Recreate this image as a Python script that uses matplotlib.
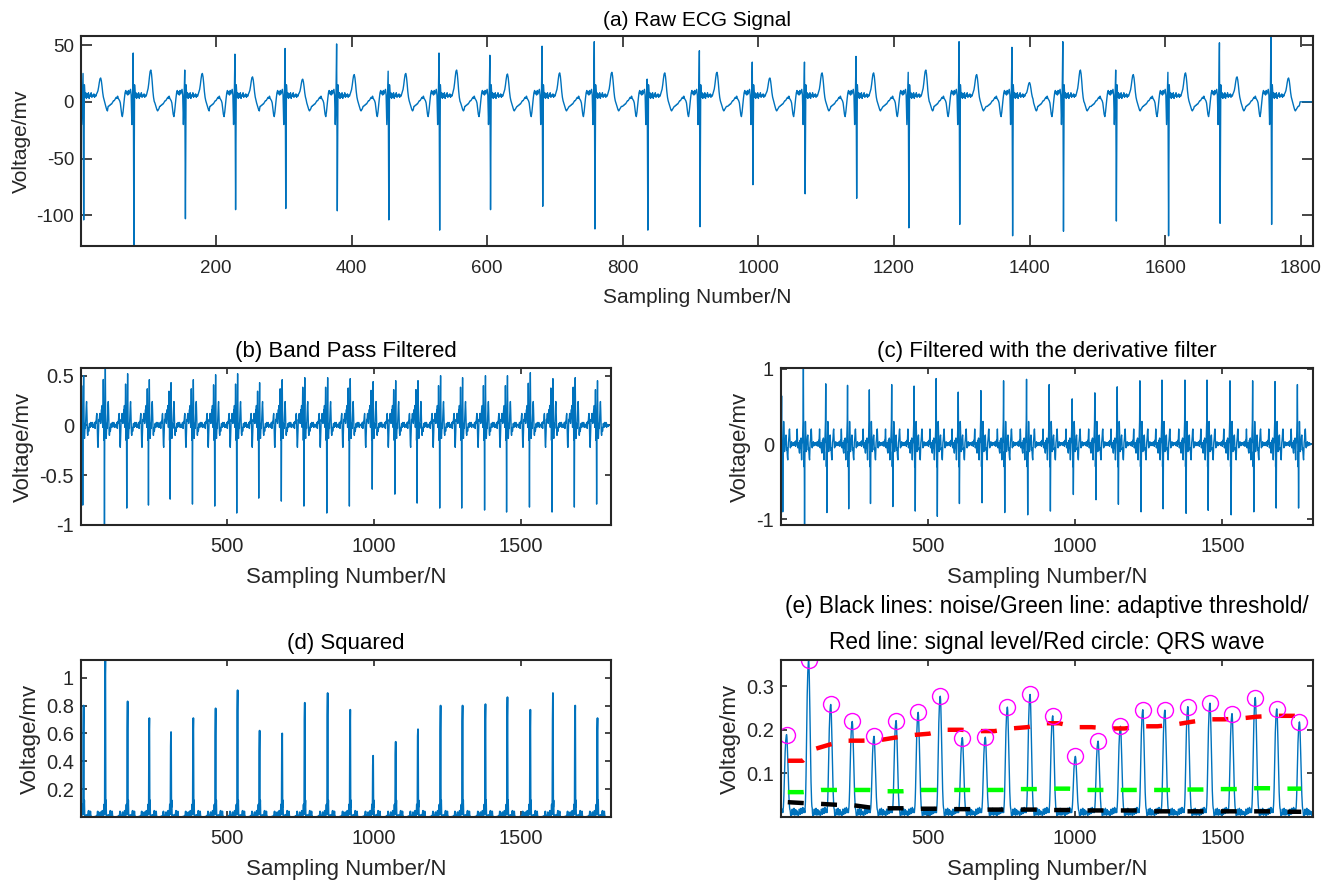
import numpy as np
import matplotlib
matplotlib.use("Agg")
import matplotlib.pyplot as plt

plt.rcParams['font.family'] = ['Liberation Sans', 'DejaVu Sans']
plt.rcParams['axes.unicode_minus'] = False
plt.rcParams['lines.scale_dashes'] = False

BLUE = '#0072BD'
DARK = '#262626'

# ---------------- data ----------------
N_RAW = 1818
N_FILT = 1808

# (a) raw ECG: sample index of the deep S spike of each beat, and its R / S / T values
beat_pos = [5, 79, 155, 229, 303, 379, 455, 530, 605, 682, 759, 837, 914, 992,
            1069, 1145, 1222, 1297, 1375, 1450, 1528, 1605, 1681, 1757]
raw_R = [25, 43, 28, 42, 47, 51, 27, 43, 41, 49, 53, 20, 45, 35, 35, 40, 26,
         53, 48, 53, 28, 26, 52, 58]
raw_S = [-104, -127, -103, -95, -94, -96, -104, -113, -95, -92, -112, -113,
         -110, -73, -81, -85, -111, -108, -118, -114, -105, -118, -107, -108]
raw_T = [21, 28, 25, 22, 20, 24, 25, 28, 24.5, 25.5, 26, 25.5, 26, 21, 25.5,
         25.5, 28, 24, 17, 28, 24, 25.5, 22, 21]
# one raw beat, samples -38 .. +41 around the S spike (R at -1, S at 0)
raw_beat = [-4, -4, -3, -3, -2, -2, -1, 0, 1, 1, 2, 3, 4, 3, 5, 3, 2, 1, -1, -6,
            -11, -13, -9, -3, 3, 8, 10, 7, 9, 6, 10, 7, 9, 11, 6, -20, 2, 0,
            0, 15, 4, 8, 3, 7, 4, 8, 3, 6, 5, 8, 4, 6, 5, 7, 4, 6, 5, 7, 9, 11,
            15, 20, 24, 25, 22, 16, 9, 4, 1, -1, -3, -5, -7, -8, -7, -6, -5, -4,
            -4, -3]

# (b) band pass filtered: negative spike and following positive peak per beat
bp_delay = 2
bp_neg = [-0.8, -1.0, -0.83, -0.8, -0.74, -0.79, -0.81, -0.88, -0.73, -0.76,
          -0.81, -0.88, -0.81, -0.64, -0.69, -0.78, -0.83, -0.83, -0.85, -0.87,
          -0.82, -0.87, -0.82, -0.79]
bp_pos = [0.5, 0.577, 0.52, 0.46, 0.43, 0.46, 0.51, 0.52, 0.43, 0.46, 0.48,
          0.48, 0.47, 0.44, 0.45, 0.45, 0.5, 0.48, 0.5, 0.5, 0.53, 0.47, 0.48,
          0.45]
bp_beat = [0.0, 0.01, -0.02, 0.01, 0.03, 0.0, -0.03, 0.02, 0.04, 0.02, 0.06,
           0.1, 0.12, 0.05, -0.08, -0.2, -0.22, -0.12, 0.0, 0.06, 0.04, 0.08,
           0.12, 0.06, 0.1, 0.02, 0.07, 0.11, 0.16, 0.07, 0.2, 0.1, -0.02, 0.15,
           0.4, 0.1, -0.15, 0.05,
           -0.8,
           0.02, 0.25, 0.46, 0.15, -0.1, -0.13, -0.05, 0.02, -0.03, 0.05, 0.12,
           0.2, 0.24, 0.15, 0.02, -0.08, -0.1, -0.06, -0.02, -0.06, -0.04, 0.0,
           0.02, 0.0, -0.02, 0.01, 0.03, 0.02, 0.0, -0.01, 0.02, 0.03, 0.01,
           -0.02, 0.0, 0.01, 0.0, 0.01, 0.0, -0.01, 0.0]

# (c) derivative filter: positive and negative spike per beat
dv_delay = 2
dv_pos = [0.64, 1.0, 0.8, 0.78, 0.72, 0.79, 0.77, 0.87, 0.69, 0.71, 0.84, 0.86,
          0.79, 0.6, 0.68, 0.76, 0.84, 0.85, 0.85, 0.85, 0.84, 0.84, 0.83, 0.79]
dv_neg = [-0.9, -1.07, -0.91, -0.86, -0.79, -0.83, -0.89, -0.96, -0.79, -0.78,
          -0.91, -0.94, -0.89, -0.67, -0.74, -0.8, -0.9, -0.86, -0.92, -0.88,
          -0.94, -0.9, -0.85, -0.85]
dv_beat = [0.0, 0.0, 0.02, -0.02, 0.01, 0.03, -0.01, 0.0, -0.03, 0.02, 0.05,
           0.0, 0.1, 0.2, 0.08, -0.05, 0.0, -0.04, 0.02, -0.06, -0.1, -0.12,
           -0.05, 0.05, 0.0, -0.05, 0.08, -0.1, -0.21, -0.05, 0.05, 0.02, 0.15,
           0.3, 0.8, 0.1, -0.3, -0.1,
           -0.85,
           -0.2, 0.05, 0.3, 0.15, -0.05, -0.1, -0.05, 0.05, 0.02, 0.1, 0.12,
           0.0, -0.08, -0.05, -0.12, -0.18, -0.21, -0.1, 0.02, 0.05, 0.1, 0.18,
           0.2, 0.1, 0.0, -0.05, 0.02, -0.03, 0.0, 0.03, -0.02, 0.01, 0.0,
           -0.02, 0.01, 0.02, -0.01, 0.0, 0.01, -0.01, 0.0]

# (d) squared: main peak and the sample before it
sq_delay = 5
sq_peak = [0.8, 1.13, 0.83, 0.71, 0.61, 0.71, 0.78, 0.91, 0.62, 0.6, 0.82, 0.89,
           0.77, 0.44, 0.54, 0.63, 0.8, 0.8, 0.81, 0.86, 0.77, 0.89, 0.8, 0.71]
sq_prev = [0.6, 1.0, 0.63, 0.61, 0.51, 0.61, 0.59, 0.76, 0.47, 0.51, 0.7, 0.73,
           0.62, 0.37, 0.45, 0.58, 0.62, 0.69, 0.7, 0.72, 0.61, 0.7, 0.69, 0.62]
sq_beat = [0.0, 0.002, 0.0, 0.001, 0.004, 0.0, 0.002, 0.0, 0.003, 0.01, 0.0,
           0.015, 0.04, 0.01, 0.0, 0.002, 0.0, 0.003, 0.01, 0.014, 0.02, 0.035,
           0.005, 0.0, 0.001, 0.006, 0.0, 0.01, 0.045, 0.01, 0.0, 0.002, 0.02,
           0.04, 0.09, 0.02, 0.05, 0.6,
           0.8,
           0.07, 0.12, 0.02, 0.005, 0.003, 0.01, 0.0, 0.003, 0.01, 0.015, 0.0,
           0.005, 0.01, 0.003, 0.015, 0.03, 0.045, 0.012, 0.0, 0.003, 0.01,
           0.03, 0.04, 0.01, 0.0, 0.003, 0.0, 0.001, 0.0, 0.001, 0.0, 0.0,
           0.001, 0.0, 0.0, 0.001, 0.0, 0.0, 0.001, 0.0, 0.0]

# (e) moving-window integration: detected QRS peaks
qrs_x = [20, 95, 170, 243, 317, 392, 467, 542, 617, 695, 770, 847, 924, 1001,
         1078, 1154, 1230, 1305, 1383, 1458, 1533, 1612, 1685, 1762]
qrs_y = [0.189, 0.36, 0.258, 0.219, 0.185, 0.221, 0.24, 0.277, 0.182, 0.183,
         0.252, 0.281, 0.232, 0.139, 0.174, 0.208, 0.246, 0.245, 0.253, 0.261,
         0.237, 0.274, 0.248, 0.218]
# small ripple between the humps (samples -38..+41 around a peak)
mwi_floor = [0.012, 0.008, 0.004, 0.003, 0.007, 0.013, 0.018, 0.016, 0.01,
             0.006, 0.008, 0.014, 0.02, 0.018, 0.012, 0.008, 0.01, 0.016, 0.022,
             0.02, 0.014, 0.01, 0.012, 0.018, 0.015, 0.01,
             0.01, 0.01, 0.01, 0.01, 0.01, 0.01, 0.01, 0.01, 0.01, 0.01, 0.01,
             0.01, 0.01, 0.01, 0.01, 0.01, 0.01, 0.01, 0.01, 0.01, 0.01, 0.01,
             0.01, 0.01, 0.01,
             0.008, 0.003, 0.0, 0.002, 0.008, 0.014, 0.018, 0.014, 0.008,
             0.005, 0.009, 0.016, 0.02, 0.015, 0.008, 0.004, 0.006, 0.012,
             0.017, 0.013, 0.007, 0.005, 0.009, 0.014, 0.012, 0.008, 0.006,
             0.01, 0.012]
# hump profile (fraction of the peak), samples -12..+12
mwi_hump = [0.04, 0.07, 0.14, 0.24, 0.38, 0.53, 0.66, 0.77, 0.86, 0.92, 0.96,
            0.99, 1.0, 0.97, 0.9, 0.8, 0.68, 0.55, 0.42, 0.3, 0.2, 0.12, 0.07,
            0.04, 0.03]

# levels drawn as thick dashed lines (x, value)
sig_lvl_x = [24, 75, 116, 166, 222, 275, 334, 388, 450, 504, 559, 613, 672,
             726, 783, 838, 892, 946, 1001, 1056, 1113, 1168, 1226, 1280, 1339,
             1393, 1454, 1508, 1563, 1618, 1672, 1726, 1770]
sig_lvl_y = [0.129, 0.129, 0.156, 0.166, 0.175, 0.175, 0.176, 0.182, 0.188,
             0.191, 0.2, 0.2, 0.197, 0.197, 0.203, 0.206, 0.215, 0.215, 0.206,
             0.206, 0.203, 0.203, 0.208, 0.208, 0.212, 0.218, 0.224, 0.224,
             0.226, 0.23, 0.232, 0.232, 0.232]
lvl_x = [24, 75, 137, 190, 246, 300, 359, 413, 473, 527, 586, 640, 699, 754,
         811, 866, 924, 978, 1037, 1092, 1150, 1204, 1266, 1321, 1379, 1433,
         1490, 1545, 1602, 1656, 1715, 1768]
thr_y = [0.057, 0.057, 0.062, 0.062, 0.062, 0.062, 0.059, 0.059, 0.062, 0.062,
         0.062, 0.062, 0.062, 0.062, 0.064, 0.064, 0.065, 0.065, 0.062, 0.062,
         0.062, 0.062, 0.062, 0.062, 0.063, 0.063, 0.064, 0.064, 0.066, 0.066,
         0.065, 0.065]
noise_y = [0.034, 0.032, 0.03, 0.028, 0.027, 0.022, 0.02, 0.02, 0.019, 0.019,
           0.018, 0.018, 0.017, 0.017, 0.017, 0.017, 0.016, 0.016, 0.015, 0.015,
           0.015, 0.015, 0.013, 0.013, 0.013, 0.013, 0.013, 0.013, 0.013, 0.013,
           0.012, 0.012]

OFF0 = -38  # first template offset


def build(n, positions, template, overrides, t_scale=None):
    sig = np.zeros(n)
    for k, p in enumerate(positions):
        seg = np.array(template, float)
        if t_scale is not None:
            lo, hi, base, ref, vals = t_scale
            i0, i1 = lo - OFF0, hi - OFF0 + 1
            seg[i0:i1] = base + (seg[i0:i1] - base) * (vals[k] - base) / (ref - base)
        for off, vals in overrides.items():
            seg[off - OFF0] = vals[k]
        idx = p - 1 + OFF0 + np.arange(len(seg))
        m = (idx >= 0) & (idx < n)
        sig[idx[m]] = seg[m]
    return sig


raw = build(N_RAW, beat_pos, raw_beat, {-1: raw_R, 0: raw_S},
            t_scale=(20, 30, 5.0, 25.0, raw_T))
bp_pos_idx = [p + bp_delay for p in beat_pos]
bp = build(N_FILT, bp_pos_idx, bp_beat,
           {-4: [0.8 * v for v in bp_pos], 0: bp_neg, 3: bp_pos})
dv_pos_idx = [p + dv_delay for p in beat_pos]
dv = build(N_FILT, dv_pos_idx, dv_beat, {-4: dv_pos, 0: dv_neg})
sq_pos_idx = [p + sq_delay for p in beat_pos]
sq = build(N_FILT, sq_pos_idx, sq_beat, {-1: sq_prev, 0: sq_peak})
mwi = build(N_FILT, qrs_x, mwi_floor, {})
for p, pk in zip(qrs_x, qrs_y):
    for j, r in enumerate(mwi_hump):
        i = p - 1 - 12 + j
        if 0 <= i < N_FILT:
            mwi[i] = 0.01 + r * (pk - 0.01)

x_raw = np.arange(1, N_RAW + 1)
x_f = np.arange(1, N_FILT + 1)

# ---------------- figure ----------------
W, H = 1330, 882
fig = plt.figure(figsize=(W / 100, H / 100), dpi=100)


def axes_px(l, t, r, b):
    return fig.add_axes([l / W, (H - b) / H, (r - l) / W, (b - t) / H])


def style(ax, tl, fs, xpad):
    ax.tick_params(direction='in', top=True, right=True, length=tl, width=1.2,
                   labelsize=fs, colors=DARK, pad=5)
    ax.tick_params(axis='x', pad=xpad)
    for s in ax.spines.values():
        s.set_linewidth(1.5)
        s.set_color(DARK)


FA_T, FA_L, FA_K = 15, 15, 13.5
FB_T, FB_L, FB_K = 16, 16, 14.5
LP = 8

# (a)
ax = axes_px(81, 36, 1313, 246)
ax.plot(x_raw, raw, color=BLUE, lw=1.0)
ax.set_xlim(1, N_RAW)
ax.set_ylim(-127, 58)
ax.set_xticks([200, 400, 600, 800, 1000, 1200, 1400, 1600, 1800])
ax.set_yticks([-100, -50, 0, 50])
style(ax, 8, FA_K, 10)
ax.set_title('(a) Raw ECG Signal', fontsize=FA_T, color='black', pad=7)
ax.set_xlabel('Sampling Number/N', fontsize=FA_L, color=DARK, labelpad=LP)
ax.set_ylabel('Voltage/mv', fontsize=FA_L, color=DARK)

# (b)
ax = axes_px(81, 368, 611, 525)
ax.plot(x_f, bp, color=BLUE, lw=1.0)
ax.set_xlim(1, N_FILT)
ax.set_ylim(-1.0, 0.577)
ax.set_xticks([500, 1000, 1500])
ax.set_yticks([-1, -0.5, 0, 0.5])
ax.set_yticklabels(['-1', '-0.5', '0', '0.5'])
style(ax, 4, FB_K, 8.5)
ax.set_title('(b) Band Pass Filtered', fontsize=FB_T, color='black', pad=8)
ax.set_xlabel('Sampling Number/N', fontsize=FB_L, color=DARK, labelpad=LP)
ax.set_ylabel('Voltage/mv', fontsize=FB_L, color=DARK)

# (c)
ax = axes_px(781, 368, 1313, 525)
ax.plot(x_f, dv, color=BLUE, lw=1.0)
ax.set_xlim(1, N_FILT)
ax.set_ylim(-1.075, 1.01)
ax.set_xticks([500, 1000, 1500])
ax.set_yticks([-1, 0, 1])
style(ax, 4, FB_K, 8.5)
ax.set_title('(c) Filtered with the derivative filter', fontsize=FB_T,
             color='black', pad=8)
ax.set_xlabel('Sampling Number/N', fontsize=FB_L, color=DARK, labelpad=LP)
ax.set_ylabel('Voltage/mv', fontsize=FB_L, color=DARK)

# (d)
ax = axes_px(81, 660, 611, 817)
ax.plot(x_f, sq, color=BLUE, lw=1.3)
ax.set_xlim(1, N_FILT)
ax.set_ylim(0, 1.127)
ax.set_xticks([500, 1000, 1500])
ax.set_yticks([0.2, 0.4, 0.6, 0.8, 1.0])
ax.set_yticklabels(['0.2', '0.4', '0.6', '0.8', '1'])
style(ax, 4, FB_K, 8.5)
ax.set_title('(d) Squared', fontsize=FB_T, color='black', pad=8)
ax.set_xlabel('Sampling Number/N', fontsize=FB_L, color=DARK, labelpad=LP)
ax.set_ylabel('Voltage/mv', fontsize=FB_L, color=DARK)

# (e)
ax = axes_px(781, 660, 1313, 817)
ax.plot(x_f, mwi, color=BLUE, lw=1.0)
dash = dict(lw=3.2, dashes=(11.5, 12.5), dash_capstyle='butt')
ax.plot(lvl_x, noise_y, color='black', **dash)
ax.plot(lvl_x, thr_y, color='#00FF00', **dash)
ax.plot(sig_lvl_x, sig_lvl_y, color='red', **dash)
ax.plot(qrs_x, qrs_y, 'o', mfc='none', mec='#FF00FF', ms=11.5, mew=1.0)
ax.set_xlim(1, N_FILT)
ax.set_ylim(0, 0.36)
ax.set_xticks([500, 1000, 1500])
ax.set_yticks([0.1, 0.2, 0.3])
style(ax, 4, FB_K, 8.5)
ax.set_title('(e) Black lines: noise/Green line: adaptive threshold/\n'
             'Red line: signal level/Red circle: QRS wave', fontsize=16.3,
             color='black', pad=8, linespacing=1.7)
ax.set_xlabel('Sampling Number/N', fontsize=FB_L, color=DARK, labelpad=LP)
ax.set_ylabel('Voltage/mv', fontsize=FB_L, color=DARK)

fig.savefig('out.png', dpi=100)
